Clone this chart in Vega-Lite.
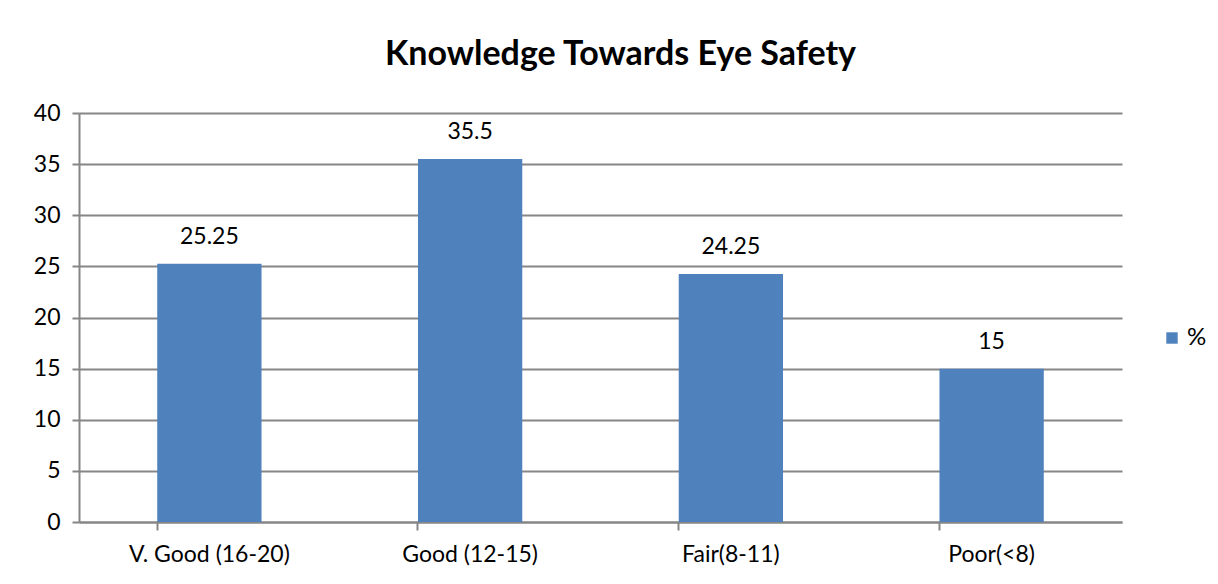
{
  "$schema": "https://vega.github.io/schema/vega-lite/v6.json",
  "width": 1043,
  "height": 409,
  "autosize": {"type": "none"},
  "padding": {"left": 79, "top": 113, "right": 96, "bottom": 62},
  "background": "white",
  "config": {
    "font": "Lato",
    "view": {"stroke": null}
  },
  "title": {
    "text": "Knowledge Towards Eye Safety",
    "font": "Lato",
    "fontSize": 34,
    "fontWeight": "bold",
    "color": "black",
    "anchor": "middle",
    "frame": "group",
    "dx": 20,
    "offset": 30
  },
  "data": {
    "values": [
      {"category": "V. Good (16-20)", "value": 25.25, "label": "25.25", "series": "%"},
      {"category": "Good (12-15)", "value": 35.5, "label": "35.5", "series": "%"},
      {"category": "Fair(8-11)", "value": 24.25, "label": "24.25", "series": "%"},
      {"category": "Poor(<8)", "value": 15, "label": "15", "series": "%"}
    ]
  },
  "encoding": {
    "x": {
      "field": "category",
      "type": "nominal",
      "sort": null,
      "scale": {"paddingInner": 0.6, "paddingOuter": 0.3},
      "axis": {
        "title": null,
        "labelAngle": 0,
        "labelFontSize": 23,
        "labelColor": "black",
        "labelPadding": 13,
        "bandPosition": 0,
        "tickSize": 8,
        "tickColor": "#868686",
        "tickWidth": 2,
        "domainColor": "#868686",
        "domainWidth": 2,
        "grid": false
      }
    },
    "y": {
      "field": "value",
      "type": "quantitative",
      "scale": {"domain": [0, 40], "nice": false},
      "axis": {
        "title": null,
        "values": [0, 5, 10, 15, 20, 25, 30, 35, 40],
        "labelFontSize": 23,
        "labelColor": "black",
        "labelPadding": 12,
        "tickSize": 7,
        "tickColor": "#868686",
        "tickWidth": 2,
        "domainColor": "#868686",
        "domainWidth": 2,
        "grid": true,
        "gridColor": "#868686",
        "gridWidth": 2
      }
    }
  },
  "layer": [
    {
      "mark": {"type": "bar", "color": "#4F81BD"},
      "encoding": {
        "color": {
          "field": "series",
          "type": "nominal",
          "scale": {"range": ["#4F81BD"]},
          "legend": {
            "title": null,
            "orient": "none",
            "legendX": 1081,
            "legendY": 213,
            "symbolType": "square",
            "symbolSize": 130,
            "symbolStrokeWidth": 0,
            "labelFontSize": 24,
            "labelColor": "black",
            "labelOffset": 3
          }
        }
      }
    },
    {
      "mark": {"type": "text", "dy": -15, "fontSize": 23, "color": "black", "baseline": "bottom"},
      "encoding": {
        "text": {"field": "label"}
      }
    }
  ]
}
